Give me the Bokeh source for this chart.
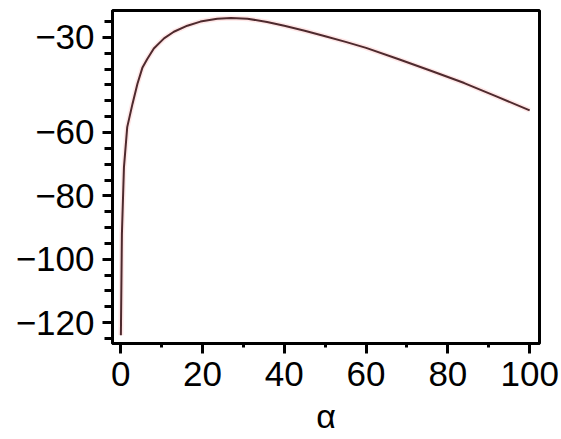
from bokeh.plotting import figure
from bokeh.models import FixedTicker, Range1d
from bokeh.embed import file_html
from bokeh.resources import INLINE

alpha = [0.05, 0.3, 0.8, 1.6, 2.9, 4.1, 5.3, 6.5, 8.1, 10.6, 13, 16.3,
         19.5, 23.6, 27, 31, 35.8, 40, 45, 50, 55, 60, 68, 76, 84, 92, 100]
value = [-124, -92, -71, -58.3, -50.9, -44.6, -39.6, -36.8, -33.5, -30.3, -28.2,
         -26.3, -25, -24.1, -23.9, -24.1, -25.1, -26.3, -27.9, -29.6, -31.4,
         -33.3, -36.9, -40.6, -44.4, -48.7, -53.0]

x_ticks = [0, 20, 40, 60, 80, 100]
x_minor = [10, 30, 50, 70, 90]
y_ticks = [-30, -60, -80, -100, -120]
y_minor = [-25, -35, -40, -45, -50, -55, -65, -70, -75, -85, -90, -95, -105, -110, -115, -125]

FONT = "Liberation Sans Narrow, Liberation Sans, Arial Narrow, sans-serif"

p = figure(width=561, height=439, output_backend="svg", toolbar_location=None,
           x_range=Range1d(-2, 102.4), y_range=Range1d(-126.6, -21.5),
           min_border_left=112, min_border_right=22, min_border_top=10, min_border_bottom=96)
p.grid.visible = False
p.background_fill_color = "white"
p.outline_line_color = "black"
p.outline_line_width = 3

p.line(alpha, value, line_color="#ffd0d0", line_width=5, line_alpha=0.5)
p.line(alpha, value, line_color="#4e2a2e", line_width=2)

xa = p.xaxis[0]
xa.ticker = FixedTicker(ticks=x_ticks, minor_ticks=x_minor)
xa.axis_label = "α"
ya = p.yaxis[0]
ya.ticker = FixedTicker(ticks=y_ticks, minor_ticks=y_minor)
ya.major_label_overrides = {-30: "−30", -60: "−60", -80: "−80", -100: "−100", -120: "−120"}

for ax in (xa, ya):
    ax.axis_line_width = 3
    ax.axis_line_color = "black"
    ax.major_tick_line_width = 3
    ax.minor_tick_line_width = 3
    ax.major_tick_in = 0
    ax.minor_tick_in = 0
    ax.major_label_text_font = FONT
    ax.major_label_text_font_size = "35px"
    ax.major_label_text_color = "black"
    ax.axis_label_text_font = FONT
    ax.axis_label_text_font_size = "34px"
    ax.axis_label_text_font_style = "normal"
    ax.axis_label_text_color = "black"

xa.major_tick_out = 10
xa.minor_tick_out = 4
xa.major_label_standoff = 8
xa.axis_label_standoff = 8
ya.major_tick_out = 10
ya.minor_tick_out = 8
ya.major_label_standoff = 8

open("out.html", "w").write(file_html(p, INLINE))
